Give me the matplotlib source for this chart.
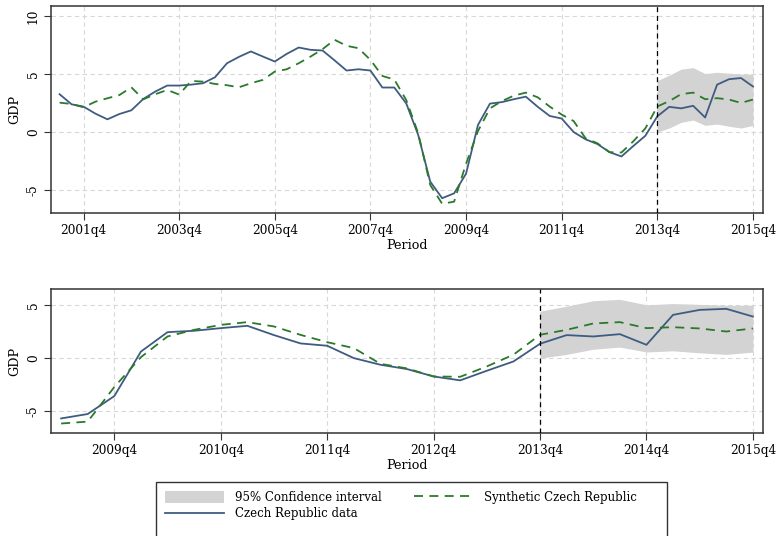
import matplotlib
matplotlib.use("Agg")
import matplotlib.pyplot as plt
import matplotlib.patches as mpatches
import matplotlib.lines as mlines
import pandas as pd

plt.rcParams["font.family"] = ["DejaVu Serif"]

# Quarterly GDP growth, 2001q2 - 2015q4
start_period = "2001Q2"
end_period = "2015Q4"
treatment_period = "2013Q4"

czech_gdp = [
    3.27, 2.40, 2.20, 1.59, 1.10, 1.56, 1.88, 2.86, 3.50, 4.02,   # 2001q2-2003q3
    4.02, 4.10, 4.22, 4.74, 5.95, 6.50, 6.97, 6.53, 6.10, 6.76,   # 2003q4-2006q1
    7.31, 7.11, 7.05, 6.20, 5.32, 5.43, 5.32, 3.85, 3.85, 2.47,   # 2006q2-2008q3
    -0.26, -4.28, -5.72, -5.30, -3.60, 0.62, 2.46, 2.59, 2.84, 3.06,  # 2008q4-2011q1
    2.18, 1.39, 1.17, 0.00, -0.63, -1.04, -1.74, -2.11, -1.20, -0.32,  # 2011q2-2013q3
    1.36, 2.18, 2.05, 2.27, 1.26, 4.10, 4.57, 4.67, 3.94,          # 2013q4-2015q4
]

synthetic_gdp = [
    2.54, 2.43, 2.14, 2.63, 2.92, 3.20, 3.87, 2.83, 3.27, 3.64,
    3.24, 4.42, 4.36, 4.16, 4.05, 3.87, 4.22, 4.51, 5.23, 5.43,
    5.95, 6.53, 7.17, 7.98, 7.46, 7.25, 6.24, 4.85, 4.54, 2.76,
    -0.11, -4.57, -6.20, -6.02, -2.74, 0.09, 2.05, 2.68, 3.15, 3.41,
    3.00, 2.20, 1.51, 0.95, -0.54, -0.98, -1.74, -1.77, -0.79, 0.32,
    2.21, 2.68, 3.28, 3.41, 2.84, 2.93, 2.81, 2.52, 2.81,
]

# 95% confidence band around the synthetic series, 2013q4 - 2015q4
ci_start = "2013Q4"
ci_upper = [4.45, 4.92, 5.44, 5.57, 5.05, 5.17, 5.09, 5.01, 5.01]
ci_lower = [0.00, 0.35, 0.84, 1.04, 0.58, 0.69, 0.50, 0.35, 0.57]

top_ticks = ["2001Q4", "2003Q4", "2005Q4", "2007Q4", "2009Q4", "2011Q4", "2013Q4", "2015Q4"]
bottom_start = "2009Q2"
bottom_ticks = ["2009Q4", "2010Q4", "2011Q4", "2012Q4", "2013Q4", "2014Q4", "2015Q4"]

BLUE = "#3f5c80"
GREEN = "#2b7a2b"
CI_GRAY = "#d3d3d3"


def qnum(p):
    return pd.Period(p, freq="Q").ordinal


def qlabel(p):
    per = pd.Period(p, freq="Q")
    return f"{per.year}q{per.quarter}"


periods = pd.period_range(start_period, end_period, freq="Q")
x_all = [p.ordinal for p in periods]
ci_x = [p.ordinal for p in pd.period_range(ci_start, end_period, freq="Q")]

fig = plt.figure(figsize=(7.76, 5.36), dpi=100)
W, H = 776, 536


def axes_px(l, t, r, b):
    return fig.add_axes([l / W, 1 - b / H, (r - l) / W, (b - t) / H])


ax_top = axes_px(51, 6, 763, 213)
ax_bot = axes_px(51, 289, 763, 433)

tick_font = dict(fontsize=8.7)


def draw_panel(ax, first, ticks, yticks, ylim, pad_l, pad_r):
    i0 = x_all.index(qnum(first))
    xs = x_all[i0:]
    ax.fill_between(ci_x, ci_lower, ci_upper, color=CI_GRAY, lw=0, zorder=1)
    ax.plot(xs, czech_gdp[i0:], color=BLUE, lw=1.3, zorder=3)
    ax.plot(xs, synthetic_gdp[i0:], color=GREEN, lw=1.3, ls=(0, (5, 3.5)), zorder=3)
    ax.axvline(qnum(treatment_period), color="black", lw=0.9, ls=(0, (4, 3)), zorder=4)
    ax.set_xlim(xs[0] - pad_l, xs[-1] + pad_r)
    ax.set_ylim(*ylim)
    ax.set_xticks([qnum(t) for t in ticks])
    ax.set_xticklabels([qlabel(t) for t in ticks], **tick_font)
    ax.set_yticks(yticks)
    ax.set_yticklabels([str(v) for v in yticks], rotation=90, va="center", **tick_font)
    ax.grid(True, color="#d8d8d8", ls=(0, (4, 3)), lw=0.8, zorder=0)
    ax.set_axisbelow(True)
    ax.tick_params(direction="out", length=5, width=0.8, color="#333333", pad=3)
    for s in ax.spines.values():
        s.set_color("#333333")
        s.set_linewidth(1.1)
    ax.set_xlabel("Period", fontsize=9.2, labelpad=1.5)
    ax.set_ylabel("GDP", fontsize=9.2, labelpad=4)


draw_panel(ax_top, start_period, top_ticks, [-5, 0, 5, 10], (-7.0, 10.9), 0.72, 0.84)
draw_panel(ax_bot, bottom_start, bottom_ticks, [-5, 0, 5], (-7.1, 6.55), 0.38, 0.38)

handles = [
    mpatches.Patch(facecolor=CI_GRAY, edgecolor="none", label="95% Confidence interval"),
    mlines.Line2D([], [], color=BLUE, lw=1.3, label="Czech Republic data"),
    mlines.Line2D([], [], color=GREEN, lw=1.3, ls=(0, (5, 3.5)), label="Synthetic Czech Republic"),
]
fig.legend(
    handles=handles,
    loc="upper left",
    bbox_to_anchor=(156 / W, 1 - 482 / H),
    borderaxespad=0,
    ncol=2,
    fontsize=8.5,
    frameon=False,
    handlelength=5.0,
    handleheight=1.1,
    handletextpad=0.9,
    columnspacing=2.8,
    labelspacing=0.3,
    borderpad=0.75,
)

# Legend box runs past the lower edge of the figure
fig.patches.append(
    mpatches.Rectangle(
        (156 / W, -0.02), (667 - 156) / W, (1 - 482 / H) + 0.02,
        transform=fig.transFigure, fill=False, edgecolor="#333333", lw=1.0,
    )
)

fig.savefig("out.png", dpi=100)
